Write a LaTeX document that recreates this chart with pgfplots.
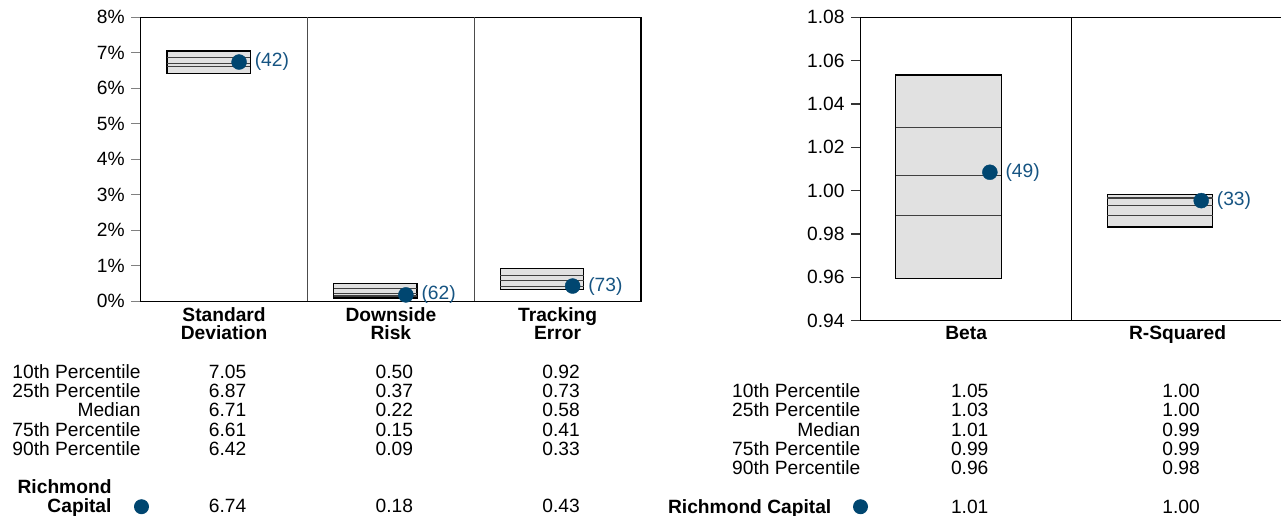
\documentclass[border=0pt]{standalone}
\usepackage{fontspec}
\setmainfont{Liberation Sans}
\usepackage{pgfplots}
\pgfplotsset{compat=1.18}
\definecolor{dotc}{RGB}{0,70,112}
\definecolor{rankc}{RGB}{22,84,130}
\definecolor{boxfill}{RGB}{225,225,225}
\definecolor{tickl}{RGB}{128,128,128}
\newcommand\F{\fontsize{19.2}{19.5}\selectfont}
\begin{document}
\begin{tikzpicture}
\useasboundingbox (0pt,0pt) rectangle (1281pt,516pt);
\pgfplotsset{
  common/.style={scale only axis, clip=false, xtick=\empty, tick align=outside,
    ytick pos=left, major tick length=9.5pt, axis line style={line width=1.2pt},
    tick label style={font=\F}, yticklabel style={xshift=-3pt}},
  bx/.style={fill=boxfill, draw=black, line width=1.3pt, mark=none, line join=miter},
  inl/.style={draw=black!75, line width=1.1pt, mark=none},
  dots/.style={only marks, mark=*, mark size=7.5pt, color=dotc},
}
\tikzset{
  rank/.style={anchor=west, inner sep=0pt, xshift=15.5pt, text=rankc, font=\F},
  cat/.style={anchor=base, inner sep=0pt, font=\F\bfseries},
  lab/.style={anchor=base east, inner sep=0pt, font=\F},
  val/.style={anchor=base, inner sep=0pt, font=\F, xshift=3.5pt},
  rc/.style={anchor=base east, inner sep=0pt, font=\F\bfseries, xshift=-29pt},
  rcdot/.style={circle, fill=dotc, inner sep=0pt, minimum size=15pt},
}
% ---------------- left axis ----------------
\begin{axis}[common, at={(140.7pt,214.7pt)}, anchor=south west,
  width=500.3pt, height=284pt, xmin=-0.5, xmax=2.5, ymin=0, ymax=8,
  ytick={0,1,2,3,4,5,6,7,8},
  yticklabels={0\%,1\%,2\%,3\%,4\%,5\%,6\%,7\%,8\%},
  ytick style={draw=tickl, line width=1.3pt}]
% Standard Deviation
\addplot[bx] coordinates {(-0.343,6.42) (0.157,6.42) (0.157,7.05) (-0.343,7.05)} --cycle;
\addplot[inl] coordinates {(-0.343,6.87) (0.157,6.87)};
\addplot[inl] coordinates {(-0.343,6.71) (0.157,6.71)};
\addplot[inl] coordinates {(-0.343,6.61) (0.157,6.61)};
% Downside Risk
\addplot[bx] coordinates {(0.657,0.09) (1.157,0.09) (1.157,0.50) (0.657,0.50)} --cycle;
\addplot[inl] coordinates {(0.657,0.37) (1.157,0.37)};
\addplot[inl] coordinates {(0.657,0.22) (1.157,0.22)};
\addplot[inl] coordinates {(0.657,0.15) (1.157,0.15)};
% Tracking Error
\addplot[bx] coordinates {(1.657,0.33) (2.157,0.33) (2.157,0.92) (1.657,0.92)} --cycle;
\addplot[inl] coordinates {(1.657,0.73) (2.157,0.73)};
\addplot[inl] coordinates {(1.657,0.58) (2.157,0.58)};
\addplot[inl] coordinates {(1.657,0.41) (2.157,0.41)};
% dividers
\addplot[draw=black!70, line width=1.2pt, mark=none] coordinates {(0.5,0) (0.5,8)};
\addplot[draw=black!70, line width=1.2pt, mark=none] coordinates {(1.5,0) (1.5,8)};
% Richmond Capital
\addplot[dots] coordinates {(0.09,6.74) (1.09,0.18) (2.09,0.43)};
\node[rank] at (axis cs:0.09,6.74) {(42)};
\node[rank] at (axis cs:1.09,0.18) {(62)};
\node[rank] at (axis cs:2.09,0.43) {(73)};
% category labels
\node[cat, yshift=-19.7pt] at (axis cs:0,0) {Standard};
\node[cat, yshift=-38pt] at (axis cs:0,0) {Deviation};
\node[cat, yshift=-19.7pt] at (axis cs:1,0) {Downside};
\node[cat, yshift=-38pt] at (axis cs:1,0) {Risk};
\node[cat, yshift=-19.7pt] at (axis cs:2,0) {Tracking};
\node[cat, yshift=-38pt] at (axis cs:2,0) {Error};
% table
\node[lab, yshift=-77pt] at (axis cs:-0.5,0) {10th Percentile};
\node[lab, yshift=-96.25pt] at (axis cs:-0.5,0) {25th Percentile};
\node[lab, yshift=-115.5pt] at (axis cs:-0.5,0) {Median};
\node[lab, yshift=-134.75pt] at (axis cs:-0.5,0) {75th Percentile};
\node[lab, yshift=-154pt] at (axis cs:-0.5,0) {90th Percentile};
\node[val, yshift=-77pt] at (axis cs:0,0) {7.05};
\node[val, yshift=-96.25pt] at (axis cs:0,0) {6.87};
\node[val, yshift=-115.5pt] at (axis cs:0,0) {6.71};
\node[val, yshift=-134.75pt] at (axis cs:0,0) {6.61};
\node[val, yshift=-154pt] at (axis cs:0,0) {6.42};
\node[val, yshift=-77pt] at (axis cs:1,0) {0.50};
\node[val, yshift=-96.25pt] at (axis cs:1,0) {0.37};
\node[val, yshift=-115.5pt] at (axis cs:1,0) {0.22};
\node[val, yshift=-134.75pt] at (axis cs:1,0) {0.15};
\node[val, yshift=-154pt] at (axis cs:1,0) {0.09};
\node[val, yshift=-77pt] at (axis cs:2,0) {0.92};
\node[val, yshift=-96.25pt] at (axis cs:2,0) {0.73};
\node[val, yshift=-115.5pt] at (axis cs:2,0) {0.58};
\node[val, yshift=-134.75pt] at (axis cs:2,0) {0.41};
\node[val, yshift=-154pt] at (axis cs:2,0) {0.33};
\node[rc, yshift=-192pt] at (axis cs:-0.5,0) {Richmond};
\node[rc, yshift=-211.4pt] at (axis cs:-0.5,0) {Capital};
\node[rcdot, yshift=-205.4pt, xshift=0.8pt] at (axis cs:-0.5,0) {};
\node[val, yshift=-211.4pt] at (axis cs:0,0) {6.74};
\node[val, yshift=-211.4pt] at (axis cs:1,0) {0.18};
\node[val, yshift=-211.4pt] at (axis cs:2,0) {0.43};
\end{axis}
% ---------------- right axis ----------------
\begin{axis}[common, at={(860.5pt,195.3pt)}, anchor=south west,
  width=422.7pt, height=303.4pt, xmin=-0.5, xmax=1.5, ymin=0.94, ymax=1.08,
  ytick={0.94,0.96,0.98,1.00,1.02,1.04,1.06,1.08},
  yticklabels={0.94,0.96,0.98,1.00,1.02,1.04,1.06,1.08},
  ytick style={draw=black!80, line width=1.3pt}]
% Beta
\addplot[bx] coordinates {(-0.333,0.9595) (0.167,0.9595) (0.167,1.0534) (-0.333,1.0534)} --cycle;
\addplot[inl] coordinates {(-0.333,1.0292) (0.167,1.0292)};
\addplot[inl] coordinates {(-0.333,1.0071) (0.167,1.0071)};
\addplot[inl] coordinates {(-0.333,0.9886) (0.167,0.9886)};
% R-Squared
\addplot[bx] coordinates {(0.667,0.9832) (1.167,0.9832) (1.167,0.9981) (0.667,0.9981)} --cycle;
\addplot[inl] coordinates {(0.667,0.9966) (1.167,0.9966)};
\addplot[inl] coordinates {(0.667,0.9931) (1.167,0.9931)};
\addplot[inl] coordinates {(0.667,0.9886) (1.167,0.9886)};
% divider
\addplot[draw=black, line width=1.2pt, mark=none] coordinates {(0.5,0.94) (0.5,1.08)};
% Richmond Capital
\addplot[dots] coordinates {(0.112,1.0085) (1.112,0.9954)};
\node[rank] at (axis cs:0.112,1.0085) {(49)};
\node[rank] at (axis cs:1.112,0.9954) {(33)};
% category labels
\node[cat, yshift=-19.3pt] at (axis cs:0,0.94) {Beta};
\node[cat, yshift=-19.3pt] at (axis cs:1,0.94) {R-Squared};
% table
\node[lab, yshift=-77pt] at (axis cs:-0.5,0.94) {10th Percentile};
\node[lab, yshift=-96.25pt] at (axis cs:-0.5,0.94) {25th Percentile};
\node[lab, yshift=-115.5pt] at (axis cs:-0.5,0.94) {Median};
\node[lab, yshift=-134.75pt] at (axis cs:-0.5,0.94) {75th Percentile};
\node[lab, yshift=-154pt] at (axis cs:-0.5,0.94) {90th Percentile};
\node[val, yshift=-77pt] at (axis cs:0,0.94) {1.05};
\node[val, yshift=-96.25pt] at (axis cs:0,0.94) {1.03};
\node[val, yshift=-115.5pt] at (axis cs:0,0.94) {1.01};
\node[val, yshift=-134.75pt] at (axis cs:0,0.94) {0.99};
\node[val, yshift=-154pt] at (axis cs:0,0.94) {0.96};
\node[val, yshift=-77pt] at (axis cs:1,0.94) {1.00};
\node[val, yshift=-96.25pt] at (axis cs:1,0.94) {1.00};
\node[val, yshift=-115.5pt] at (axis cs:1,0.94) {0.99};
\node[val, yshift=-134.75pt] at (axis cs:1,0.94) {0.99};
\node[val, yshift=-154pt] at (axis cs:1,0.94) {0.98};
\node[rc, yshift=-192.6pt] at (axis cs:-0.5,0.94) {Richmond Capital};
\node[rcdot, yshift=-186pt] at (axis cs:-0.5,0.94) {};
\node[val, yshift=-192.6pt] at (axis cs:0,0.94) {1.01};
\node[val, yshift=-192.6pt] at (axis cs:1,0.94) {1.00};
\end{axis}
\end{tikzpicture}
\end{document}
